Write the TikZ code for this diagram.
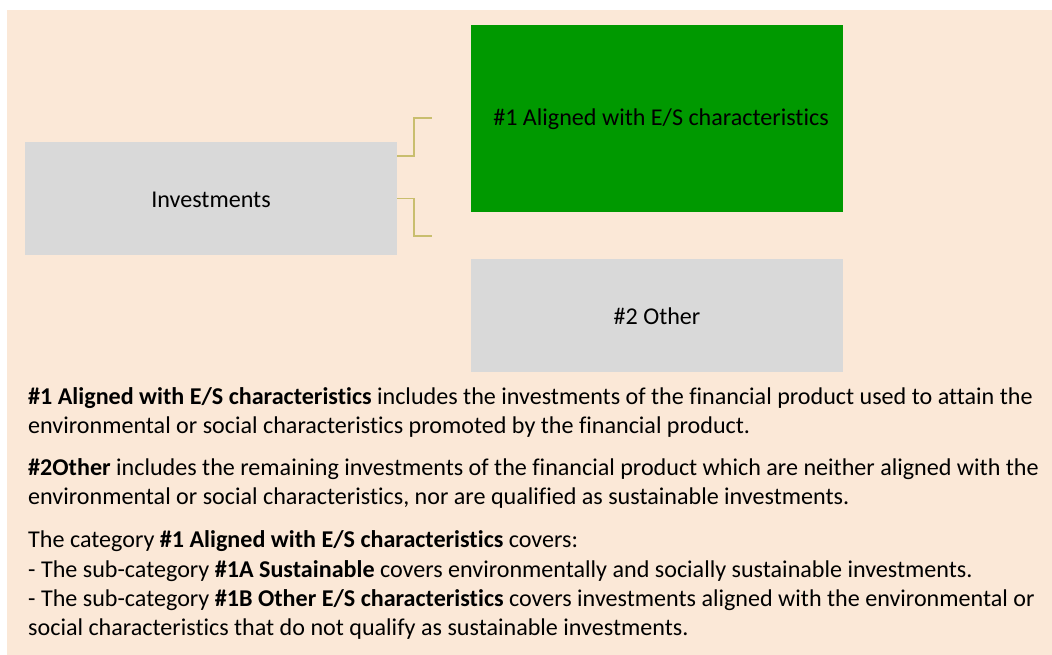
\documentclass[tikz,border=0pt]{standalone}
\usepackage{fontspec}
\setmainfont[Ligatures=NoCommon]{Carlito}
\definecolor{peach}{RGB}{251,232,215}
\definecolor{boxgray}{RGB}{217,217,217}
\definecolor{boxgreen}{RGB}{0,153,0}
\definecolor{conn}{RGB}{201,190,110}
\tikzset{
  conline/.style={draw=conn, line width=1.8pt},
  txt/.style={anchor=base west, inner sep=0pt, font=\fontsize{24.1}{29}\selectfont},
  boxtxt/.style={inner sep=0pt, font=\fontsize{24.1}{29}\selectfont}
}
\begin{document}
\begin{tikzpicture}[x=1pt,y=-1pt]
\useasboundingbox (0,0) rectangle (1052,655);
\fill[peach] (7,10) rectangle (1052,655);
% boxes
\fill[boxgray] (25,142) rectangle (397,255);
\fill[boxgreen] (471,25) rectangle (843,212);
\fill[boxgray] (471,259) rectangle (843,372);
\node[boxtxt] (inv) at (211,199.5) {Investments};
\node[boxtxt] (al) at (661,119.5) {\#1 Aligned with E/S characteristics};
\node[boxtxt] (oth) at (657,316.5) {\#2 Other};
\coordinate (invR1) at (397,156);
\coordinate (invR2) at (397,198.5);
\coordinate (e1) at (432,118);
\coordinate (e2) at (432,236);
\draw[conline] (invR1) -- (414,156) |- (e1);
\draw[conline] (invR2) -- (414,198.5) |- (e2);
% paragraphs
\node[txt] (p1a) at (28,404) {\textbf{\#1 Aligned with E/S characteristics} includes the investments of the financial product used to attain the};
\node[txt] (p1b) at (28,433) {environmental or social characteristics promoted by the financial product.};
\node[txt] (p2a) at (28,475) {\textbf{\#2Other} includes the remaining investments of the financial product which are neither aligned with the};
\node[txt] (p2b) at (28,504) {environmental or social characteristics, nor are qualified as sustainable investments.};
\node[txt] (p3a) at (28,547) {The category \textbf{\#1 Aligned with E/S characteristics} covers:};
\node[txt] (p3b) at (28,577) {- The sub-category \textbf{\#1A Sustainable} covers environmentally and socially sustainable investments.};
\node[txt] (p3c) at (28,606) {- The sub-category \textbf{\#1B Other E/S characteristics} covers investments aligned with the environmental or};
\node[txt] (p3d) at (28,635) {social characteristics that do not qualify as sustainable investments.};
\end{tikzpicture}
\end{document}
